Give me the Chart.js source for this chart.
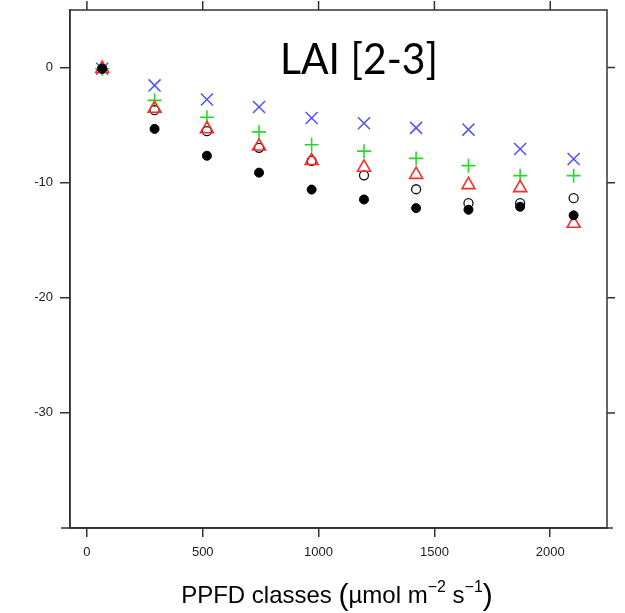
<!DOCTYPE html>
<html>
<head>
<meta charset="utf-8">
<script src="https://cdn.jsdelivr.net/npm/chart.js@4.4.1/dist/chart.umd.min.js"></script>
<style>
  html, body { margin: 0; padding: 0; background: #fff; }
  #wrap { position: relative; width: 625px; height: 613px; }
</style>
</head>
<body>
<div id="wrap"><canvas id="c"></canvas></div>
<script>
// PPFD class centres (umol m-2 s-1)
const ppfdClasses = [66, 292, 518, 743, 970, 1196, 1421, 1647, 1870, 2101];

// one array per marker series
const filledCircle = [-0.1, -5.33, -7.66, -9.13, -10.6, -11.46, -12.21, -12.35, -12.09, -12.84];
const openCircle   = [-0.1, -3.7, -5.53, -6.97, -8.1, -9.36, -10.57, -11.78, -11.78, -11.35];
const triangleRed  = [-0.1, -3.56, -5.34, -6.84, -8.1, -8.68, -9.3, -10.19, -10.45, -13.55];
const plusGreen    = [-0.1, -2.85, -4.32, -5.59, -6.7, -7.26, -7.89, -8.52, -9.39, -9.39];
const crossBlue    = [-0.1, -1.55, -2.77, -3.43, -4.38, -4.84, -5.24, -5.39, -7.08, -7.95];

const xTicks = [0, 500, 1000, 1500, 2000];
const yTicks = [-30, -20, -10, 0];
const panelLabel = 'LAI [2-3]';

const axisColor = '#333';

function pts(ys) { return ppfdClasses.map((x, i) => ({ x: x, y: ys[i] })); }

// box, ticks on top/right, panel label and x title
const frame = {
  id: 'frame',
  afterDraw(chart) {
    const { ctx, chartArea: a, scales: { x, y } } = chart;
    ctx.save();
    ctx.strokeStyle = axisColor;
    ctx.lineWidth = 1.5;
    ctx.strokeRect(a.left, a.top, a.right - a.left, a.bottom - a.top);
    ctx.beginPath();
    ctx.moveTo(a.left - 9, a.bottom); ctx.lineTo(a.right + 6, a.bottom);
    xTicks.forEach(v => {
      const px = x.getPixelForValue(v);
      ctx.moveTo(px, a.top); ctx.lineTo(px, a.top - 9);
    });
    yTicks.forEach(v => {
      const py = y.getPixelForValue(v);
      ctx.moveTo(a.right, py); ctx.lineTo(a.right + 8, py);
    });
    ctx.stroke();

    ctx.fillStyle = '#000';
    ctx.textAlign = 'left';
    ctx.textBaseline = 'alphabetic';
    ctx.font = '42px Lato';
    ctx.fillText(panelLabel, 280, 74, 158);

    // x title with raised exponents
    const parts = [
      { t: 'PPFD classes ', f: '24px "Liberation Sans"', dy: 0 },
      { t: '(', f: '30px "Liberation Sans"', dy: 2 },
      { t: '\u00b5mol m', f: '24px "Liberation Sans"', dy: 0 },
      { t: '\u22122', f: '16px "Liberation Sans"', dy: -11 },
      { t: ' s', f: '24px "Liberation Sans"', dy: 0 },
      { t: '\u22121', f: '16px "Liberation Sans"', dy: -11 },
      { t: ')', f: '30px "Liberation Sans"', dy: 2 }
    ];
    let total = 0;
    parts.forEach(p => { ctx.font = p.f; p.w = ctx.measureText(p.t).width; total += p.w; });
    let cx = 337 - total / 2;
    const base = 603;
    parts.forEach(p => {
      ctx.font = p.f;
      ctx.fillText(p.t, cx, base + p.dy);
      cx += p.w;
    });
    ctx.restore();
  }
};

new Chart(document.getElementById('c'), {
  type: 'scatter',
  data: {
    datasets: [
      { data: pts(filledCircle), pointStyle: 'circle', pointRadius: 4.5,
        backgroundColor: '#000', borderColor: '#000', borderWidth: 1 },
      { data: pts(triangleRed), pointStyle: 'triangle', pointRadius: 7.5,
        backgroundColor: 'rgba(0,0,0,0)', borderColor: '#ff2a2a', borderWidth: 1.6 },
      { data: pts(openCircle), pointStyle: 'circle', pointRadius: 4.5,
        backgroundColor: 'rgba(0,0,0,0)', borderColor: '#111', borderWidth: 1.3 },
      { data: pts(plusGreen), pointStyle: 'cross', pointRadius: 7,
        backgroundColor: '#2bd62b', borderColor: '#2bd62b', borderWidth: 1.6 },
      { data: pts(crossBlue), pointStyle: 'crossRot', pointRadius: 8.5,
        backgroundColor: '#5050ff', borderColor: '#5050ff', borderWidth: 1.5 }
    ]
  },
  options: {
    responsive: true,
    maintainAspectRatio: false,
    animation: false,
    events: [],
    layout: { padding: { left: 0, top: 8, right: 18, bottom: 0 } },
    plugins: { legend: { display: false }, tooltip: { enabled: false } },
    scales: {
      x: {
        type: 'linear', min: -73, max: 2245,
        afterBuildTicks: s => { s.ticks = xTicks.map(v => ({ value: v })); },
        afterFit: s => { s.height = 85; s.paddingLeft = 0; s.paddingRight = 0; },
        grid: { drawOnChartArea: false, drawTicks: true, tickLength: 9, color: axisColor, lineWidth: 1.5 },
        border: { display: true, color: axisColor, width: 1.5 },
        ticks: { color: '#222', padding: 8, maxRotation: 0, callback: v => String(v),
          font: { family: 'Liberation Sans', size: 13 } }
      },
      y: {
        type: 'linear', min: -40, max: 5,
        afterBuildTicks: s => { s.ticks = yTicks.map(v => ({ value: v })); },
        afterFit: s => { s.width = 70; s.paddingTop = 0; s.paddingBottom = 0; },
        grid: { drawOnChartArea: false, drawTicks: true, tickLength: 10, color: axisColor, lineWidth: 1.5 },
        border: { display: true, color: axisColor, width: 1.5 },
        ticks: { color: '#222', padding: 7, callback: v => String(v),
          font: { family: 'Liberation Sans', size: 13 } }
      }
    }
  },
  plugins: [frame]
});
</script>
</body>
</html>
